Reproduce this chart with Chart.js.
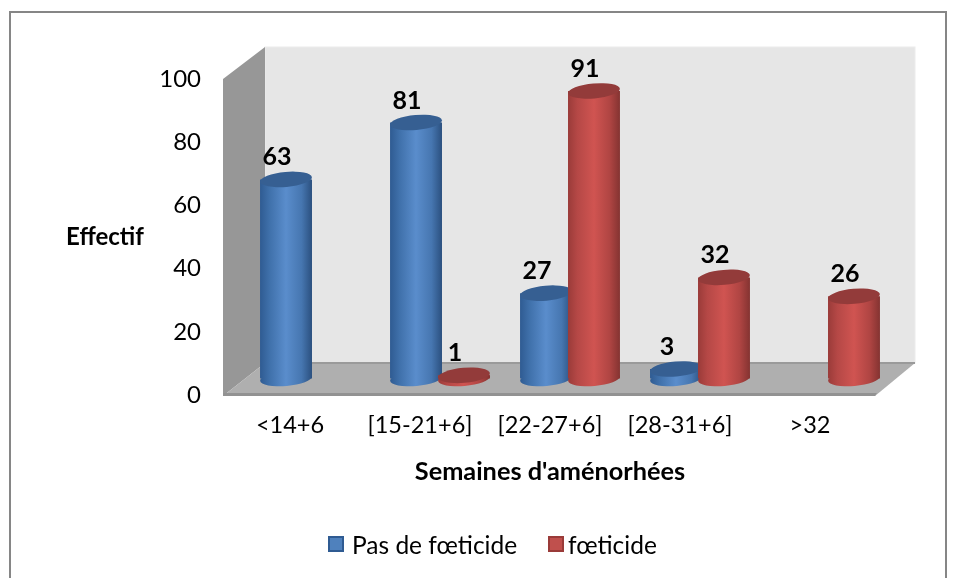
<!DOCTYPE html>
<html><head><meta charset="utf-8">
<style>html,body{margin:0;padding:0;background:#fff}canvas{display:block}</style>
<script src="https://cdn.jsdelivr.net/npm/chart.js@4"></script>
</head><body>
<div style="width:956px;height:578px"><canvas id="c" width="956" height="578"></canvas></div>
<script>
const categories = ['<14+6','[15-21+6]','[22-27+6]','[28-31+6]','>32'];
const pasDeFoeticide = [63,81,27,3,null];
const foeticide = [null,1,91,32,26];
const seriesNames = ['Pas de fœticide','fœticide'];
const yTitle = 'Effectif';
const xTitle = "Semaines d'aménorhées";

const FONT = 'Lato, Carlito, Calibri, sans-serif';
const DEPTH_X = 40, DEPTH_Y = -32;      // receding depth of the 3D box
const BAR_DX = 20, BAR_DY = -16.5;      // bars stand mid-way on the floor
const ELL_RY = 7.5, ELL_TILT = -5 * Math.PI / 180;
const LOOK = [
  {base:'#4f81bd',line:'#2f5b92',stops:[[0,'#2f5b92'],[.18,'#3f70aa'],[.5,'#5a8dcc'],[.8,'#4676b0'],[1,'#2b507f']], cap:'#365f92'},
  {base:'#c0504d',line:'#9a3b39',stops:[[0,'#9a3b39'],[.18,'#b54846'],[.5,'#d05451'],[.8,'#b04543'],[1,'#843331']], cap:'#933b3a'}
];

function ellipse(ctx,x,y,rx){ctx.beginPath();ctx.ellipse(x,y,rx,ELL_RY,ELL_TILT,0,Math.PI*2);ctx.closePath();}
function poly(ctx,pts,fill){ctx.beginPath();pts.forEach((p,i)=>i?ctx.lineTo(p[0],p[1]):ctx.moveTo(p[0],p[1]));ctx.closePath();ctx.fillStyle=fill;ctx.fill();}

function paintCylinders(chart,index){
  const ctx=chart.ctx, look=LOOK[index], meta=chart.getDatasetMeta(index), values=chart.data.datasets[index].data;
  ctx.save();
  ctx.translate(BAR_DX,BAR_DY);
  meta.data.forEach((el,j)=>{
    if(values[j]===null) return;
    const g=ctx.createLinearGradient(el.x-el.width/2,0,el.x+el.width/2,0);
    look.stops.forEach(s=>g.addColorStop(s[0],s[1]));
    el.options=Object.assign({},el.options,{backgroundColor:g,borderWidth:0});
    ellipse(ctx,el.x,el.base,el.width/2);
    ctx.fillStyle=g;ctx.fill();
    el.draw(ctx);
    ellipse(ctx,el.x,el.y,el.width/2);
    ctx.fillStyle=look.cap;ctx.fill();
  });
  ctx.restore();
}

const box3d = {
  id:'box3d',
  beforeDraw(chart){
    const ctx=chart.ctx, a=chart.chartArea;
    const L=a.left,R=a.right,T=a.top,B=a.bottom,dx=DEPTH_X,dy=DEPTH_Y;
    ctx.save();
    ctx.strokeStyle='#868686';ctx.lineWidth=2;
    ctx.strokeRect(10,12,936,580);
    // back wall
    poly(ctx,[[L+dx,T+dy],[R+dx,T+dy],[R+dx,B+dy],[L+dx,B+dy]],'#e6e6e6');
    ctx.strokeStyle='#ececec';ctx.lineWidth=1;
    ctx.strokeRect(L+dx,T+dy,R-L,B-T);
    // side wall
    poly(ctx,[[L-2,T],[L+dx,T+dy],[L+dx,B+dy],[L-2,B+1]],'#979797');
    // floor
    poly(ctx,[[L-2,B+1],[L+dx,B+dy],[R+dx,B+dy],[R,B+1]],'#afafaf');
    // thin edges
    poly(ctx,[[L-2,B-2],[R+2,B-2],[R,B+1],[L-2,B+1]],'#929292');
    poly(ctx,[[L+dx,B+dy-1],[R+dx,B+dy-1],[R+dx,B+dy+1],[L+dx,B+dy+1]],'#9a9a9a');
    // y title (horizontal)
    ctx.fillStyle='#000';ctx.font='bold 24px '+FONT;ctx.textAlign='center';ctx.textBaseline='middle';
    ctx.fillText(yTitle,105,237);
    ctx.restore();
  },
  // the right-hand series stands in front: paint in dataset order rather than the default reverse order
  beforeDatasetDraw(){ return false; },
  afterDatasetsDraw(chart){
    const ctx=chart.ctx;
    chart.data.datasets.forEach((d,i)=>paintCylinders(chart,i));
    ctx.save();
    ctx.fillStyle='#000';ctx.font='bold 25px '+FONT;ctx.textAlign='center';ctx.textBaseline='middle';
    chart.data.datasets.forEach((ds,i)=>{
      chart.getDatasetMeta(i).data.forEach((el,j)=>{
        if(ds.data[j]===null) return;
        ctx.fillText(String(ds.data[j]),el.x+BAR_DX-9,el.y+BAR_DY-22);
      });
    });
    // legend
    const items=[[328,352],[548,568]];
    ctx.textAlign='left';ctx.font='24.5px '+FONT;
    seriesNames.forEach((name,i)=>{
      ctx.fillStyle=LOOK[i].base;ctx.strokeStyle=LOOK[i].line;ctx.lineWidth=2;
      ctx.fillRect(items[i][0]+1,537,14,14);ctx.strokeRect(items[i][0]+1,537,14,14);
      ctx.fillStyle='#000';
      ctx.fillText(name,items[i][1],546);
    });
    ctx.restore();
  }
};

new Chart(document.getElementById('c'),{
  type:'bar',
  data:{labels:categories,datasets:[
    {label:seriesNames[0],data:pasDeFoeticide,backgroundColor:LOOK[0].base,clip:false},
    {label:seriesNames[1],data:foeticide,backgroundColor:LOOK[1].base,clip:false}
  ]},
  plugins:[box3d],
  options:{
    responsive:false,animation:false,
    datasets:{bar:{categoryPercentage:0.738,barPercentage:1.083}},
    layout:{padding:{left:109,right:81,top:79,bottom:91}},
    plugins:{tooltip:{enabled:false},title:{display:false},legend:{display:false}},
    scales:{
      x:{grid:{display:false,drawTicks:false},border:{display:false},
        afterFit(s){s.height=92;},
        ticks:{color:'#000',padding:16,maxRotation:0,autoSkip:false,font:{family:FONT,size:23.5}},
        title:{display:true,text:xTitle,color:'#000',font:{family:FONT,size:25.3,weight:'bold'},padding:{top:18,bottom:0}}},
      y:{min:0,max:100,grid:{display:false,drawTicks:false},border:{display:false},
        afterFit(s){s.width=116;},
        ticks:{stepSize:20,color:'#000',padding:24,font:{family:FONT,size:24}}}
    }
  }
});
</script>
</body></html>
